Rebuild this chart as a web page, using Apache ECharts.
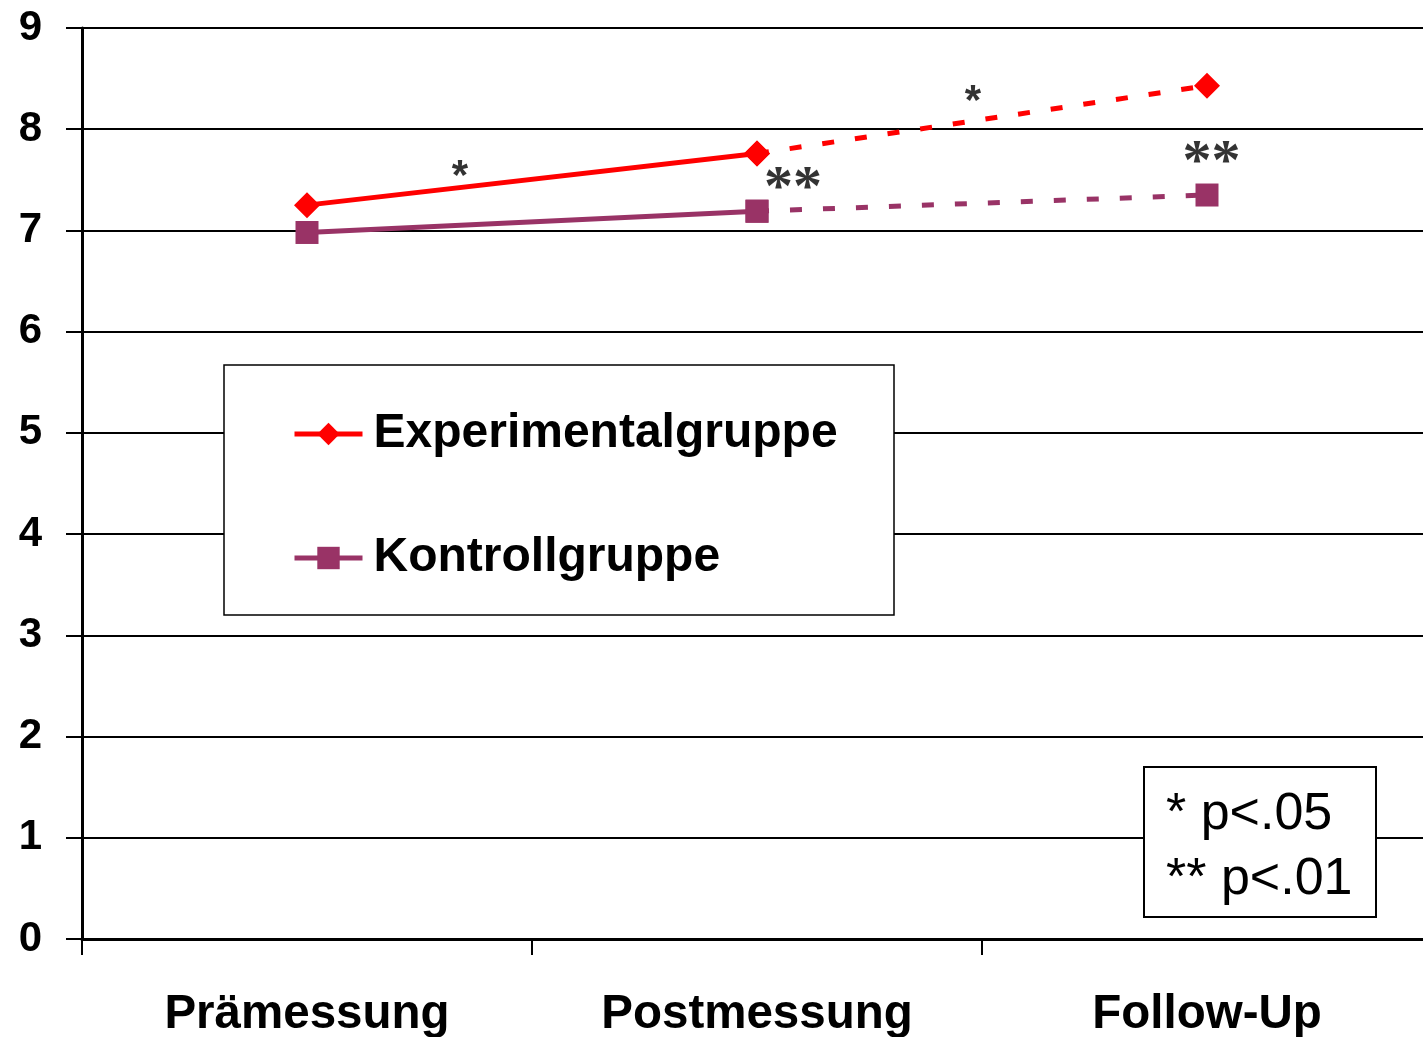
<!DOCTYPE html>
<html>
<head>
<meta charset="utf-8">
<script src="https://cdn.jsdelivr.net/npm/echarts@6/dist/echarts.min.js"></script>
<style>
html,body{margin:0;padding:0;background:#fff;}
#c{width:1423px;height:1037px;}
</style>
</head>
<body>
<div id="c"></div>
<script>
var categories = ['Prämessung', 'Postmessung', 'Follow-Up'];
var yTicks = [0, 9, 1];
var expValues = [7.25, 7.76, 8.43];
var ctrlValues = [6.98, 7.19, 7.35];
var seriesNames = ['Experimentalgruppe', 'Kontrollgruppe'];
var annX = [0.34, 1.08, 1.48, 2.01];
var annY = [7.52, 7.40, 8.26, 7.66];
var annText = ['*', '**', '*', '**'];
var annSerif = [false, true, false, true];
var pNote = ['* p<.05', '** p<.01'];

var chart = echarts.init(document.getElementById('c'));
var F = 'Liberation Sans, Arial, sans-serif';
var RED = '#FF0000', PUR = '#993366';

function solidPart(v){ return [v[0], v[1], null]; }
function dashPart(v){ return [null, v[1], v[2]]; }

var annData = annX.map(function(x, i){
  return {
    value: [x, annY[i]],
    label: {
      formatter: annText[i],
      color: '#000',
      fontFamily: annSerif[i] ? 'Liberation Serif, Times New Roman, serif' : F,
      fontWeight: 'bold',
      fontSize: annSerif[i] ? 58 : 42,
      letterSpacing: annSerif[i] ? 4 : 0
    }
  };
});

chart.setOption({
  animation: false,
  backgroundColor: '#fff',
  grid: { left: 82, top: 28, right: -9, bottom: 98, containLabel: false, outerBoundsMode: 'none' },
  xAxis: [{
    type: 'category',
    data: categories,
    boundaryGap: true,
    axisLine: { show: true, onZero: false, lineStyle: { color: '#000', width: 3 } },
    axisTick: { show: true, length: 16, lineStyle: { color: '#000', width: 2 } },
    axisLabel: { color: '#000', fontFamily: F, fontWeight: 'bold', fontSize: 47.5, margin: 52 },
    splitLine: { show: false }
  }, {
    type: 'value', min: -0.5, max: 2.5, show: false
  }],
  yAxis: {
    type: 'value',
    min: yTicks[0], max: yTicks[1], interval: yTicks[2],
    axisLine: { show: true, onZero: false, lineStyle: { color: '#000', width: 3 } },
    axisTick: { show: true, length: 16, lineStyle: { color: '#000', width: 2 } },
    axisLabel: { color: '#000', fontFamily: F, fontWeight: 'bold', fontSize: 42, margin: 40 },
    splitLine: { show: true, lineStyle: { color: '#000', width: 2 } }
  },
  legend: {
    data: seriesNames,
    orient: 'vertical',
    left: 292, top: 405,
    itemWidth: 68, itemHeight: 28,
    itemGap: 66,
    padding: 0,
    lineStyle: { width: 5 },
    textStyle: { color: '#000', fontFamily: F, fontWeight: 'bold', fontSize: 48, padding: [0, 0, 0, 6], height: 58, lineHeight: 58 },
    z: 10
  },
  graphic: [
    { type: 'rect', z: 5, shape: { x: 224, y: 365, width: 670, height: 250 },
      style: { fill: '#fff', stroke: '#000', lineWidth: 1.5 } },
    { type: 'rect', z: 5, shape: { x: 1144, y: 767, width: 232, height: 150 },
      style: { fill: '#fff', stroke: '#000', lineWidth: 2 } },
    { type: 'text', z: 6, x: 1166, y: 782,
      style: { text: pNote.join('\n'), font: 'normal 52px ' + F, fill: '#000', lineHeight: 65 } }
  ],
  series: [
    { name: seriesNames[0], type: 'line', data: solidPart(expValues), symbol: 'diamond', symbolSize: 26,
      showAllSymbol: true, lineStyle: { color: RED, width: 5 }, itemStyle: { color: RED }, z: 3 },
    { name: seriesNames[1], type: 'line', data: solidPart(ctrlValues), symbol: 'rect', symbolSize: 23,
      showAllSymbol: true, lineStyle: { color: PUR, width: 5 }, itemStyle: { color: PUR }, z: 3 },
    { name: seriesNames[0], type: 'line', data: dashPart(expValues), symbol: 'diamond', symbolSize: 26,
      showAllSymbol: true, lineStyle: { color: RED, width: 5, type: [12, 21] }, itemStyle: { color: RED }, z: 3 },
    { name: seriesNames[1], type: 'line', data: dashPart(ctrlValues), symbol: 'rect', symbolSize: 23,
      showAllSymbol: true, lineStyle: { color: PUR, width: 5, type: [12, 21] }, itemStyle: { color: PUR }, z: 3 },
    { type: 'scatter', xAxisIndex: 1, yAxisIndex: 0, symbolSize: 0, silent: true, z: 4,
      data: annData,
      label: { show: true, position: 'inside', color: '#000' } }
  ]
});
</script>
</body>
</html>
